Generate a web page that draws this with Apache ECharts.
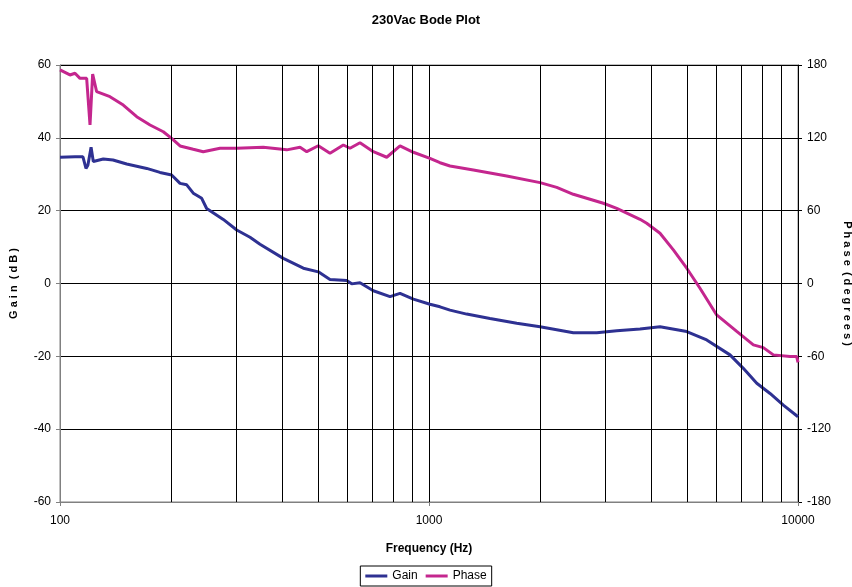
<!DOCTYPE html>
<html>
<head>
<meta charset="utf-8">
<script src="https://cdn.jsdelivr.net/npm/echarts@6/dist/echarts.min.js"></script>
<style>
  html, body { margin: 0; padding: 0; background: #fff; }
  #chart { width: 852px; height: 587px; }
</style>
</head>
<body>
<div id="chart"></div>
<script>
// frequency (Hz), gain (dB)
const gainFreq = [100, 101, 109.8, 115.4, 117.6, 119, 121.4, 123.1, 131, 139.2, 151.6, 171.8, 186.6, 200.7, 211.5, 220.5, 229.7, 242.1, 249.7, 277, 301.2, 327.3, 348.3, 402.9, 456.5, 501.2, 539.1, 598.4, 617.3, 650.1, 706.6, 784.1, 834.6, 907, 1006, 1071, 1140, 1265, 1463, 1729, 2000, 2461, 2849, 3227, 3731, 4227, 4994, 5657, 6542, 7108, 7731, 8399, 9126, 10000]
const gainDb = [34.7, 34.8, 34.8, 34.8, 31.6, 32.5, 37.4, 33.5, 34.2, 33.9, 32.8, 31.6, 30.5, 29.8, 27.5, 27.1, 24.8, 23.4, 20.6, 17.6, 14.7, 12.7, 10.8, 6.9, 4.2, 3.2, 1.1, 0.8, -0.1, 0.2, -2.0, -3.6, -2.7, -4.3, -5.7, -6.4, -7.3, -8.4, -9.6, -10.9, -11.9, -13.5, -13.5, -13.0, -12.5, -11.9, -13.2, -15.5, -19.6, -23.3, -27.4, -30.2, -33.4, -36.6]

// frequency (Hz), phase (degrees)
const phaseFreq = [100, 101, 106.4, 109.8, 113.3, 118.1, 120.6, 122.6, 125.7, 136.6, 148.4, 161.4, 175.4, 190.5, 200.7, 211.5, 229.7, 244.5, 271.4, 301.2, 355.5, 411.6, 447.2, 466.3, 501.2, 539.1, 585.9, 610.8, 650.1, 706.6, 768.2, 834.6, 907, 1006, 1071, 1140, 1319, 1624, 2000, 2219, 2461, 2968, 3227, 3731, 3890, 4227, 4594, 4994, 5425, 6020, 6823, 7568, 8054, 8575, 9512, 9919, 10000]
const phaseDeg = [176, 175.9, 171.8, 173.2, 169, 169, 130.6, 172.6, 158, 153.9, 147, 137.4, 130.6, 125, 119.6, 113.3, 110.6, 108.6, 111.4, 111.4, 112.2, 110.1, 112.2, 108.6, 113.5, 107.3, 114.1, 111.4, 116, 108.6, 104, 113.3, 108.1, 103.1, 99.5, 96.8, 93.5, 88.6, 83.1, 79.2, 73.5, 66.1, 61.9, 52.9, 49.6, 41.4, 27.7, 12.6, -3.9, -25.9, -39.5, -50.6, -52.8, -58.8, -60.2, -60.2, -65]

// vertical grid lines between the decades
const minorFreqs = [200, 300, 400, 500, 600, 700, 800, 900, 2000, 3000, 4000, 5000, 6000, 7000, 8000, 9000]

const FONT = "'Liberation Sans', Arial, sans-serif"
const COLOR_GAIN = '#2E3192'
const COLOR_PHASE = '#C4268E'

const chart = echarts.init(document.getElementById('chart'))

chart.setOption({
  animation: false,
  textStyle: { fontFamily: FONT, color: '#000' },
  title: {
    text: '230Vac Bode Plot',
    left: 'center',
    top: 9,
    textStyle: { fontSize: 13, fontWeight: 'bold', color: '#000', fontFamily: FONT }
  },
  legend: {
    bottom: 1,
    left: 'center',
    data: ['Gain', 'Phase'],
    icon: 'rect',
    itemWidth: 22,
    itemHeight: 3,
    itemGap: 8,
    borderColor: '#000',
    borderWidth: 1,
    borderRadius: 0,
    padding: [4, 5],
    textStyle: { fontSize: 12, color: '#000', fontFamily: FONT }
  },
  grid: {
    left: 60,
    right: 54,
    top: 65,
    bottom: 85,
    outerBoundsMode: 'none',
    containLabel: false,
    show: true,
    borderColor: '#808080',
    borderWidth: 1
  },
  xAxis: {
    type: 'log',
    logBase: 10,
    min: 100,
    max: 10000,
    name: 'Frequency (Hz)',
    nameLocation: 'middle',
    nameGap: 41,
    nameTextStyle: { fontSize: 12, fontWeight: 'bold', color: '#000' },
    axisLine: { onZero: false, lineStyle: { color: '#808080' } },
    axisTick: { show: true, length: 4, lineStyle: { color: '#808080' } },
    axisLabel: { fontSize: 12, color: '#000', margin: 13, formatter: v => String(Math.round(v)) },
    splitLine: { show: true, lineStyle: { color: '#000', width: 1 } }
  },
  yAxis: [
    {
      type: 'value',
      min: -60,
      max: 60,
      interval: 20,
      name: 'G a i n  ( d B )',
      nameLocation: 'middle',
      nameGap: 41,
      nameTextStyle: { fontSize: 11, fontWeight: 'bold', color: '#000' },
      axisLine: { show: true, onZero: false, lineStyle: { color: '#808080' } },
      axisTick: { show: true, length: 4, lineStyle: { color: '#808080' } },
      axisLabel: { fontSize: 12, color: '#000', margin: 9 },
      splitLine: { show: true, lineStyle: { color: '#000', width: 1 } }
    },
    {
      type: 'value',
      min: -180,
      max: 180,
      interval: 60,
      position: 'right',
      name: 'P h a s e  ( d e g r e e s )',
      nameLocation: 'middle',
      nameGap: 40,
      nameRotate: -90,
      nameTextStyle: { fontSize: 11, fontWeight: 'bold', color: '#000' },
      axisLine: { show: true, onZero: false, lineStyle: { color: '#000' } },
      axisTick: { show: true, length: 4, lineStyle: { color: '#000' } },
      axisLabel: { fontSize: 12, color: '#000', margin: 9 },
      splitLine: { show: false }
    }
  ],
  series: [
    {
      name: 'grid',
      type: 'line',
      data: [],
      z: 1,
      silent: true,
      markLine: {
        silent: true,
        symbol: 'none',
        label: { show: false },
        lineStyle: { color: '#000', width: 1, type: 'solid' },
        data: minorFreqs.map(f => ({ xAxis: f }))
      }
    },
    {
      name: 'Gain',
      type: 'line',
      yAxisIndex: 0,
      showSymbol: false,
      z: 3,
      color: COLOR_GAIN,
      lineStyle: { color: COLOR_GAIN, width: 3 },
      data: gainFreq.map((f, i) => [f, gainDb[i]])
    },
    {
      name: 'Phase',
      type: 'line',
      yAxisIndex: 1,
      showSymbol: false,
      z: 3,
      color: COLOR_PHASE,
      lineStyle: { color: COLOR_PHASE, width: 3 },
      data: phaseFreq.map((f, i) => [f, phaseDeg[i]])
    }
  ]
})
</script>
</body>
</html>
